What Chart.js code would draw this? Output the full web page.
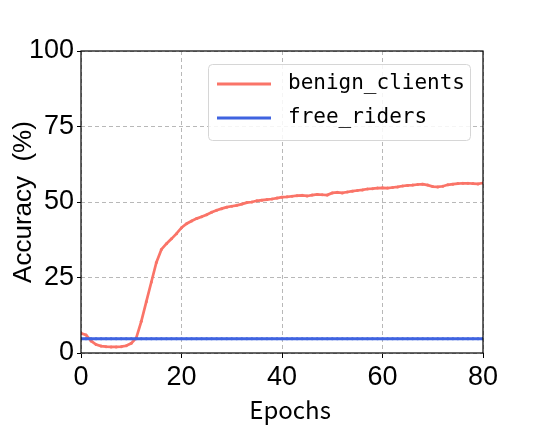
<!DOCTYPE html>
<html>
<head>
<meta charset="utf-8">
<script src="https://cdn.jsdelivr.net/npm/chart.js@4"></script>
<style>
html,body{margin:0;padding:0;background:#fff;}
#wrap{width:535px;height:442px;}
</style>
</head>
<body>
<div id="wrap"><canvas id="c" width="535" height="442"></canvas></div>
<script>
const epochs = Array.from({length: 81}, (_, i) => i);
const benignClients = [
  6.5, 6.0, 4.0, 2.8, 2.3, 2.1, 2.0, 2.0, 2.1, 2.4,
  3.2, 5.0, 10.5, 17.0, 23.5, 30.0, 34.3, 36.2, 37.8, 39.5,
  41.5, 42.8, 43.7, 44.5, 45.1, 45.8, 46.6, 47.3, 47.8, 48.3,
  48.6, 48.9, 49.3, 49.8, 50.0, 50.4, 50.6, 50.8, 51.0, 51.3,
  51.6, 51.7, 51.9, 52.1, 52.2, 52.0, 52.3, 52.5, 52.4, 52.3,
  53.0, 53.2, 53.0, 53.3, 53.6, 53.8, 54.0, 54.3, 54.4, 54.6,
  54.7, 54.6, 54.8, 55.0, 55.3, 55.5, 55.6, 55.8, 55.9, 55.6,
  55.1, 55.0, 55.2, 55.7, 55.9, 56.1, 56.2, 56.2, 56.1, 56.0,
  56.3
];
const freeRiders = epochs.map(() => 4.7);
const xTicks = [0, 20, 40, 60, 80];
const yTicks = [0, 25, 50, 75, 100];
const seriesNames = ['benign_clients', 'free_riders'];
const seriesColors = ['#fa7468', '#3f63e0'];

const toPts = arr => arr.map((v, i) => ({x: epochs[i], y: v}));

const legendPlugin = {
  id: 'boxLegend',
  afterDatasetsDraw(chart) {
    const ctx = chart.ctx;
    const bx = 208, by = 64, bw = 262, bh = 76;
    ctx.save();
    ctx.fillStyle = 'rgba(255,255,255,0.85)';
    ctx.strokeStyle = '#d6d6d6';
    ctx.lineWidth = 1;
    ctx.beginPath();
    ctx.roundRect(bx + 0.5, by + 0.5, bw, bh, 4);
    ctx.fill();
    ctx.stroke();
    ctx.font = '21px "DejaVu Sans Mono", "Liberation Mono", monospace';
    ctx.textBaseline = 'middle';
    ctx.textAlign = 'left';
    const rows = [84, 118];
    chart.data.datasets.forEach((ds, i) => {
      const y = rows[i];
      ctx.strokeStyle = ds.borderColor;
      ctx.lineWidth = 2.8;
      ctx.beginPath();
      ctx.moveTo(217, y);
      ctx.lineTo(271, y);
      ctx.stroke();
      ctx.fillStyle = '#000';
      ctx.fillText(ds.label, 288, y);
    });
    ctx.restore();
  }
};

const framePlugin = {
  id: 'frame',
  afterDraw(chart) {
    const a = chart.chartArea;
    const ctx = chart.ctx;
    ctx.save();
    ctx.strokeStyle = '#000';
    ctx.lineWidth = 1.2;
    ctx.strokeRect(a.left, a.top, a.right - a.left, a.bottom - a.top);
    ctx.restore();
  }
};

new Chart(document.getElementById('c'), {
  type: 'line',
  data: {
    datasets: [
      {
        label: seriesNames[0],
        data: toPts(benignClients),
        borderColor: seriesColors[0],
        backgroundColor: seriesColors[0],
        borderWidth: 2.7,
        pointRadius: 1.5,
        pointBorderWidth: 0,
        tension: 0,
        order: 1
      },
      {
        label: seriesNames[1],
        data: toPts(freeRiders),
        borderColor: seriesColors[1],
        backgroundColor: seriesColors[1],
        borderWidth: 3,
        pointRadius: 1.5,
        pointBorderWidth: 0,
        tension: 0,
        order: 0
      }
    ]
  },
  options: {
    responsive: false,
    animation: false,
    devicePixelRatio: 1,
    layout: {padding: {left: 0, right: 52, top: 51, bottom: 0}},
    plugins: {
      legend: {display: false},
      tooltip: {enabled: false}
    },
    scales: {
      x: {
        type: 'linear',
        min: 0, max: 80,
        afterBuildTicks: s => { s.ticks = xTicks.map(v => ({value: v})); },
        afterFit: s => { s.height = 89; },
        border: {display: false, dash: [4, 3]},
        grid: {
          color: '#b8b8b8',
          lineWidth: 1,
          drawTicks: true,
          tickLength: 5,
          tickColor: '#000',
          tickBorderDash: []
        },
        ticks: {
          color: '#000',
          padding: 3,
          font: {family: '"Liberation Sans", Arial, sans-serif', size: 27},
          maxRotation: 0
        },
        title: {
          display: true,
          text: '   Epochs',
          color: '#000',
          font: {family: '"Noto Sans CJK SC", sans-serif', size: 24},
          padding: {top: 0, bottom: 18}
        }
      },
      y: {
        type: 'linear',
        min: 0, max: 100,
        afterBuildTicks: s => { s.ticks = yTicks.map(v => ({value: v})); },
        afterFit: s => { s.width = 81; },
        border: {display: false, dash: [4, 3]},
        grid: {
          color: '#b8b8b8',
          lineWidth: 1,
          drawTicks: true,
          tickLength: 4,
          tickColor: '#000',
          tickBorderDash: []
        },
        ticks: {
          color: '#000',
          padding: 3,
          font: {family: '"Liberation Sans", Arial, sans-serif', size: 27}
        },
        title: {
          display: true,
          text: 'Accuracy  (%)',
          color: '#000',
          font: {family: '"Liberation Sans", Arial, sans-serif', size: 26},
          padding: {top: 8, bottom: 0}
        }
      }
    }
  },
  plugins: [legendPlugin, framePlugin]
});
</script>
</body>
</html>
